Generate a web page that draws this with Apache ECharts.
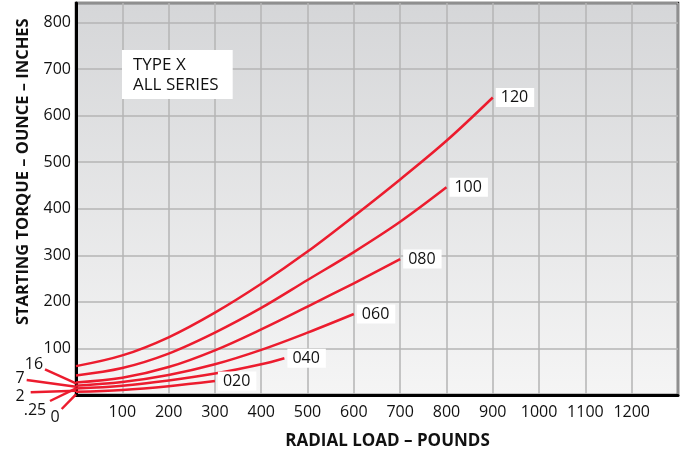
<!DOCTYPE html>
<html><head><meta charset="utf-8">
<script src="https://cdn.jsdelivr.net/npm/echarts@6/dist/echarts.min.js"></script>
<style>html,body{margin:0;padding:0;background:#fff}#c{width:685px;height:453px}</style>
</head><body><div id="c"></div>
<script>
const loads = [0, 100, 200, 300, 400, 500, 600, 700, 800, 900];
const loads040 = [0, 100, 200, 300, 400, 450];
const s120 = [62, 85, 124, 177, 239, 308, 384, 463, 546, 639];
const s100 = [42, 58, 89, 134, 187, 247, 307, 372, 446];
const s080 = [27, 37, 60, 96, 141, 190, 240, 292];
const s060 = [20, 28, 43, 66, 97, 134, 174];
const s040 = [14, 20, 31, 46, 66, 79];
const s020 = [7, 11, 19, 30];
const seriesNames = ['120', '100', '080', '060', '040', '020'];
const fanLabels = ['16', '7', '2', '.25', '0'];
const legendLines = ['TYPE X', 'ALL SERIES'];
const xTitle = 'RADIAL LOAD – POUNDS';
const yTitle = 'STARTING TORQUE – OUNCE – INCHES';

const FONT = 'Open Sans';
const RED = '#ec1c2e';
function pairs(xs, ys) { return ys.map((v, i) => [xs[i], v]); }
const seriesData = [
  pairs(loads, s120), pairs(loads, s100), pairs(loads, s080),
  pairs(loads, s060), pairs(loads040, s040), pairs(loads, s020)
];

const chart = echarts.init(document.getElementById('c'));
const fanLines = [
  [[45, 369.3], [76, 383.3]],
  [[26.7, 380], [76, 386.7]],
  [[30.7, 392.3], [76, 390.7]],
  [[50, 401], [76, 388.3]],
  [[61.7, 409], [76, 394.3]]
];
const fanPos = [[34, 364], [20, 378], [20, 396.5], [35, 410], [55, 417.5]];
const graphics = [];
fanLines.forEach(l => graphics.push({type: 'line', shape: {x1: l[0][0], y1: l[0][1], x2: l[1][0], y2: l[1][1]},
  style: {stroke: RED, lineWidth: 2.5}, z: 10}));
fanLabels.forEach((t, i) => graphics.push({type: 'text', x: fanPos[i][0], y: fanPos[i][1],
  style: {text: t, font: '16px "Open Sans"', fill: '#111', textAlign: 'center', textVerticalAlign: 'middle'}, z: 11}));
graphics.push({type: 'text', x: 387.5, y: 441.3,
  style: {text: xTitle, font: 'bold 17px "Open Sans"', fill: '#111', textAlign: 'center', textVerticalAlign: 'middle'}});
graphics.push({type: 'text', x: 23.3, y: 171.7, rotation: Math.PI / 2,
  style: {text: yTitle, font: 'bold 16.5px "Open Sans"', fill: '#111', textAlign: 'center', textVerticalAlign: 'middle'}});

chart.setOption({
  animation: false,
  title: {
    text: legendLines.join('\n'), left: 122, top: 50,
    backgroundColor: '#fff', padding: [5, 14, 4, 11],
    textStyle: {fontFamily: FONT, fontSize: 17, fontWeight: 'normal', color: '#111', lineHeight: 20}
  },
  grid: {
    left: 76, right: 7, top: 3, bottom: 58, show: true,
    borderColor: '#222', borderWidth: 2.5,
    backgroundColor: new echarts.graphic.LinearGradient(0, 0, 0, 1, [
      {offset: 0, color: '#d5d6d8'}, {offset: 1, color: '#f5f5f5'}])
  },
  xAxis: {
    type: 'value', min: 0, max: 1300, interval: 100,
    axisLine: {show: true, onZero: false, lineStyle: {color: '#000', width: 3}},
    axisTick: {show: false},
    splitLine: {show: true, lineStyle: {color: '#b4b4b4', width: 1.5}},
    axisLabel: {fontFamily: FONT, fontSize: 16, color: '#111', margin: 9,
      formatter: v => (v > 0 && v < 1300) ? String(v) : ''}
  },
  yAxis: {
    type: 'value', min: 0, max: 842, interval: 100,
    axisLine: {show: true, onZero: false, lineStyle: {color: '#000', width: 3}},
    axisTick: {show: false},
    splitLine: {show: true, lineStyle: {color: '#b4b4b4', width: 1.5}},
    axisLabel: {fontFamily: FONT, fontSize: 16, color: '#111', margin: 5, showMaxLabel: false,
      formatter: v => (v > 0 && v <= 800 && v % 100 === 0) ? String(v) : ''}
  },
  series: seriesNames.map((n, i) => ({
    type: 'line', name: n, data: seriesData[i], smooth: 0.35, showSymbol: false,
    lineStyle: {color: RED, width: 2.5}, itemStyle: {color: RED}, z: 5,
    endLabel: {show: true, formatter: n, distance: 3, backgroundColor: '#fff',
      padding: [2, 6, 1, 5], fontFamily: FONT, fontSize: 16, color: '#111'}
  })),
  graphic: graphics
});
</script></body></html>
